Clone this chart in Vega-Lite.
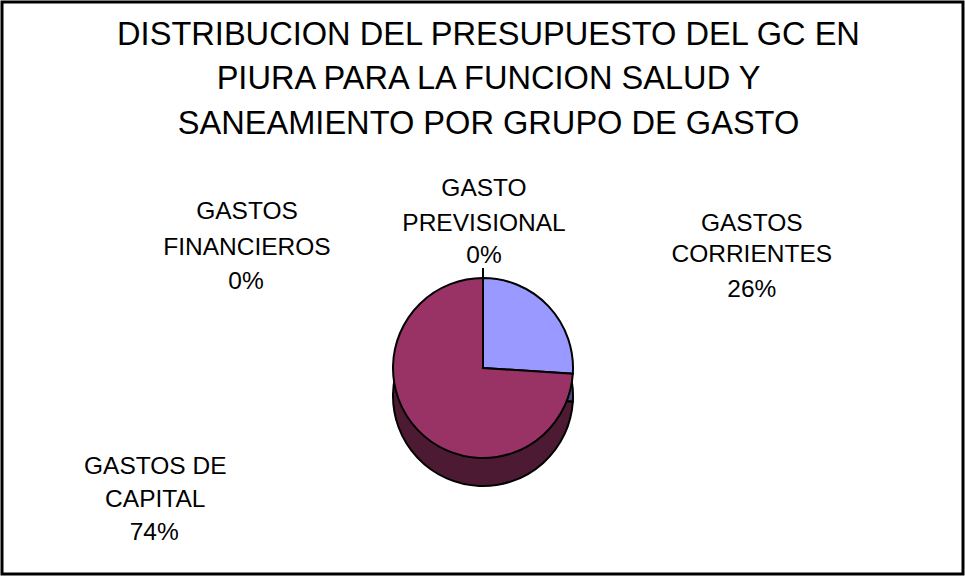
{
  "$schema": "https://vega.github.io/schema/vega-lite/v6.json",
  "width": 961,
  "height": 572,
  "autosize": {"type": "none"},
  "padding": {"left": 2, "top": 2, "right": 2, "bottom": 3},
  "background": "white",
  "config": {
    "view": {"stroke": null},
    "font": "Liberation Sans"
  },
  "title": {
    "text": ["DISTRIBUCION DEL PRESUPUESTO DEL GC EN", "PIURA PARA LA FUNCION SALUD Y", "SANEAMIENTO POR GRUPO DE GASTO"],
    "fontSize": 32.6,
    "font": "Liberation Sans",
    "fontWeight": "normal",
    "color": "black",
    "lineHeight": 44.5,
    "anchor": "middle",
    "frame": "group",
    "baseline": "alphabetic",
    "offset": -166,
    "dx": 6
  },
  "data": {
    "values": [
      {"grupo": "GASTOS CORRIENTES", "valor": 0.26, "orden": 1},
      {"grupo": "GASTOS DE CAPITAL", "valor": 0.74, "orden": 2},
      {"grupo": "GASTOS FINANCIEROS", "valor": 0.0, "orden": 3},
      {"grupo": "GASTO PREVISIONAL", "valor": 0.0, "orden": 4}
    ]
  },
  "layer": [
    {
      "data": {"values": [{}]},
      "mark": {"type": "rect", "fillOpacity": 0, "stroke": "black", "strokeWidth": 3},
      "encoding": {}
    },
    {
      "encoding": {
        "theta": {"field": "valor", "type": "quantitative", "stack": true},
        "order": {"field": "orden", "type": "quantitative"}
      },
      "layer": [
        {
          "mark": {"type": "arc", "radius": 90, "x": 481, "y": 394, "stroke": "black", "strokeWidth": 2},
          "encoding": {
            "fill": {"field": "grupo", "type": "nominal", "legend": null,
              "scale": {"domain": ["GASTOS CORRIENTES", "GASTOS DE CAPITAL", "GASTOS FINANCIEROS", "GASTO PREVISIONAL"],
                        "range": ["#4D4D80", "#4D1A33", "#4D1A33", "#4D1A33"]}}
          }
        },
        {
          "mark": {"type": "arc", "radius": 90, "x": 481, "y": 366, "stroke": "black", "strokeWidth": 2},
          "encoding": {
            "color": {"field": "grupo", "type": "nominal", "legend": null,
              "scale": {"domain": ["GASTOS CORRIENTES", "GASTOS DE CAPITAL", "GASTOS FINANCIEROS", "GASTO PREVISIONAL"],
                        "range": ["#9999FF", "#993366", "#993366", "#993366"]}}
          }
        },
        {
          "mark": {"type": "arc", "radius": 100, "radius2": 90, "x": 481, "y": 366, "fillOpacity": 0, "stroke": "black", "strokeWidth": 2},
          "encoding": {
            "strokeOpacity": {"condition": {"test": "datum.valor === 0", "value": 1}, "value": 0}
          }
        },
        {
          "mark": {"type": "text", "radius": 130, "x": 481, "y": 366, "dx": 174, "dy": -55, "fontSize": 24.5, "font": "Liberation Sans", "lineBreak": " ", "lineHeight": 31, "align": "center", "baseline": "middle", "color": "black"},
          "encoding": {"text": {"condition": {"test": "datum.grupo === 'GASTOS CORRIENTES'", "field": "grupo"}, "value": ""}}
        },
        {
          "mark": {"type": "text", "radius": 130, "x": 481, "y": 366, "dx": 174, "dy": 11, "fontSize": 24.5, "font": "Liberation Sans", "align": "center", "baseline": "middle", "color": "black"},
          "encoding": {"text": {"condition": {"test": "datum.grupo === 'GASTOS CORRIENTES'", "field": "valor", "type": "quantitative", "format": ".0%"}, "value": ""}}
        },
        {
          "mark": {"type": "text", "radius": 130, "x": 481, "y": 366, "dx": 1, "dy": -49, "fontSize": 24.5, "font": "Liberation Sans", "lineBreak": " ", "lineHeight": 35, "align": "center", "baseline": "middle", "color": "black"},
          "encoding": {"text": {"condition": {"test": "datum.grupo === 'GASTO PREVISIONAL'", "field": "grupo"}, "value": ""}}
        },
        {
          "mark": {"type": "text", "radius": 130, "x": 481, "y": 366, "dx": 1, "dy": 18, "fontSize": 24.5, "font": "Liberation Sans", "align": "center", "baseline": "middle", "color": "black"},
          "encoding": {"text": {"condition": {"test": "datum.grupo === 'GASTO PREVISIONAL'", "field": "valor", "type": "quantitative", "format": ".0%"}, "value": ""}}
        },
        {
          "mark": {"type": "text", "radius": 130, "x": 481, "y": 366, "dx": -236, "dy": -26, "fontSize": 24.5, "font": "Liberation Sans", "lineBreak": " ", "lineHeight": 36, "align": "center", "baseline": "middle", "color": "black"},
          "encoding": {"text": {"condition": {"test": "datum.grupo === 'GASTOS FINANCIEROS'", "field": "grupo"}, "value": ""}}
        },
        {
          "mark": {"type": "text", "radius": 130, "x": 481, "y": 366, "dx": -237, "dy": 44, "fontSize": 24.5, "font": "Liberation Sans", "align": "center", "baseline": "middle", "color": "black"},
          "encoding": {"text": {"condition": {"test": "datum.grupo === 'GASTOS FINANCIEROS'", "field": "valor", "type": "quantitative", "format": ".0%"}, "value": ""}}
        },
        {
          "mark": {"type": "text", "radius": 130, "x": 481, "y": 366, "dx": -233, "dy": 10, "fontSize": 24.5, "font": "Liberation Sans", "lineBreak": {"expr": "regexp(' (?=CAPITAL)')"}, "lineHeight": 33, "align": "center", "baseline": "middle", "color": "black"},
          "encoding": {"text": {"condition": {"test": "datum.grupo === 'GASTOS DE CAPITAL'", "field": "grupo"}, "value": ""}}
        },
        {
          "mark": {"type": "text", "radius": 130, "x": 481, "y": 366, "dx": -234, "dy": 76, "fontSize": 24.5, "font": "Liberation Sans", "align": "center", "baseline": "middle", "color": "black"},
          "encoding": {"text": {"condition": {"test": "datum.grupo === 'GASTOS DE CAPITAL'", "field": "valor", "type": "quantitative", "format": ".0%"}, "value": ""}}
        }
      ]
    }
  ]
}
